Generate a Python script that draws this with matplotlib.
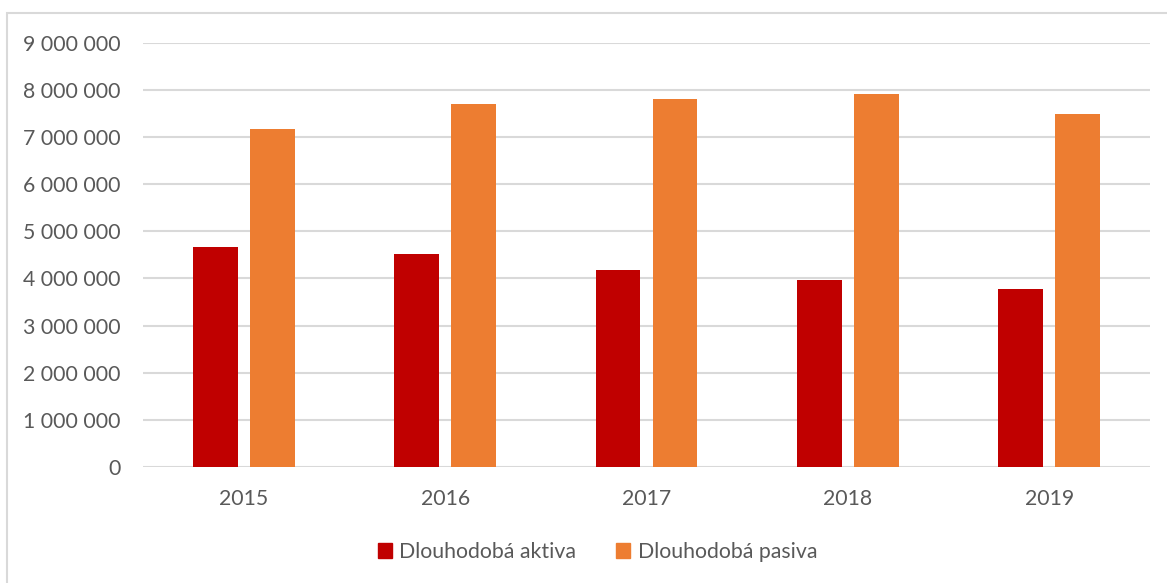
import matplotlib
matplotlib.use("Agg")
import matplotlib.pyplot as plt
from matplotlib.ticker import FuncFormatter, MultipleLocator
from matplotlib.patches import Rectangle, Patch
import numpy as np

years = ["2015", "2016", "2017", "2018", "2019"]
aktiva = [4660000, 4520000, 4170000, 3960000, 3770000]
pasiva = [7170000, 7710000, 7800000, 7920000, 7490000]
series_names = ["Dlouhodobá aktiva", "Dlouhodobá pasiva"]

RED = "#C00000"
ORANGE = "#ED7D31"
TEXT = "#595959"
GRID = "#D9D9D9"

plt.rcParams["font.family"] = ["Lato", "DejaVu Sans"]

W, H = 1167, 583
fig = plt.figure(figsize=(W / 100, H / 100), dpi=100)
ax = fig.add_axes([143 / W, 1 - 467 / H, (1150 - 143) / W, (467 - 42.7) / H])

x = np.arange(len(years))
bw = 0.223
off = 0.1415
ax.bar(x - off, aktiva, width=bw, color=RED, zorder=3)
ax.bar(x + off, pasiva, width=bw, color=ORANGE, zorder=3)

ax.set_xlim(-0.5, len(years) - 0.5)
ax.set_ylim(0, 9000000)
ax.yaxis.set_major_locator(MultipleLocator(1000000))
ax.yaxis.set_major_formatter(FuncFormatter(lambda v, p: f"{int(round(v)):,}".replace(",", " ")))
ax.set_xticks(x)
ax.set_xticklabels(years)

ax.grid(axis="y", color=GRID, linewidth=1.5, zorder=0)
ax.set_axisbelow(True)
for s in ax.spines.values():
    s.set_visible(False)
ax.tick_params(axis="both", length=0, labelsize=15.3, labelcolor=TEXT)
ax.tick_params(axis="y", pad=16)
ax.tick_params(axis="x", pad=16)

handles = [Patch(color=RED), Patch(color=ORANGE)]
fig.legend(handles, series_names, loc="center", bbox_to_anchor=(0.512, 1 - 552 / H),
           ncol=2, frameon=False, fontsize=15.3, labelcolor=TEXT,
           handlelength=0.65, handleheight=0.65, handletextpad=0.35, columnspacing=1.9)

# chart area border (open on the right and bottom edges)
fig.add_artist(Rectangle((7 / W, -0.1), 1.2, 1.1 - 13 / H, transform=fig.transFigure,
                         fill=False, edgecolor=GRID, linewidth=1.5))

fig.savefig("out.png", dpi=100, facecolor="white")
